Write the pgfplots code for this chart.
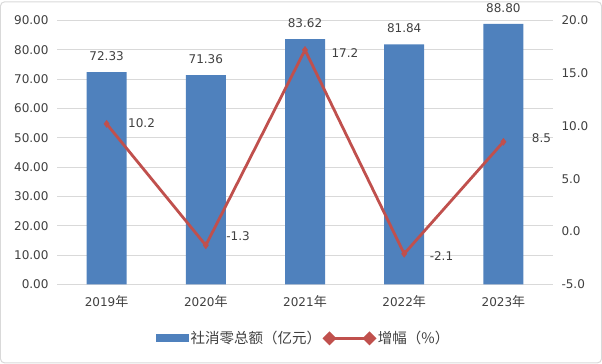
\documentclass[border=0pt]{standalone}
\usepackage{pgfplots}
\pgfplotsset{compat=1.18}
\usepackage{fontspec}
\setmainfont{DejaVu Sans}
\newfontfamily\cjk{Noto Sans CJK SC}
\definecolor{barblue}{HTML}{4F81BD}
\definecolor{linered}{HTML}{C0504D}
\definecolor{txt}{HTML}{404040}
\definecolor{gridc}{HTML}{D9D9D9}
\newcommand{\nian}{{\cjk\fontsize{13bp}{15bp}\selectfont 年}}
\pgfplotstableread{
x y dx dy
0 10.2 18 1
1 -1.3 17 9
2 17.2 23 -3
3 -2.1 22 -2
4 8.5 25 4
}\growth
\begin{document}
\begin{tikzpicture}
\draw[rounded corners=4bp, gridc, line width=1bp] (0.5bp,0.5bp) rectangle (601.5bp,361.5bp);
\begin{axis}[at={(57bp,79bp)}, anchor=south west, scale only axis,
  width=496bp, height=264bp,
  xmin=-0.5, xmax=4.5, ymin=0, ymax=90, ytick={0,10,...,90},
  xtick={0,1,2,3,4},
  xticklabels={2019\nian,2020\nian,2021\nian,2022\nian,2023\nian},
  /pgf/number format/assume math mode=true,
  yticklabel={\pgfmathprintnumber[fixed,fixed zerofill,precision=2]{\tick}},
  ticklabel style={font=\fontsize{12bp}{14bp}\selectfont, text=txt},
  yticklabel style={xshift=-5bp},
  xticklabel style={yshift=-3bp},
  ymajorgrids, grid style={gridc, line width=1bp},
  axis x line*=bottom, axis y line*=left,
  y axis line style={draw=none}, x axis line style={draw=gridc, line width=1bp, -},
  tick style={draw=none},
  ybar, bar width=40bp,
  nodes near coords,
  nodes near coords style={font=\fontsize{12bp}{14bp}\selectfont, text=txt, yshift=8bp,
    /pgf/number format/.cd, fixed, fixed zerofill, precision=2},
  clip=false,
]
\addplot[fill=barblue, draw=none] coordinates {(0,72.33) (1,71.36) (2,83.62) (3,81.84) (4,88.80)};
\end{axis}
\begin{axis}[at={(57bp,79bp)}, anchor=south west, scale only axis,
  width=496bp, height=264bp,
  xmin=-0.5, xmax=4.5, ymin=-5, ymax=20, ytick={-5,0,...,20},
  /pgf/number format/assume math mode=true,
  yticklabel={\pgfmathprintnumber[fixed,fixed zerofill,precision=1]{\tick}},
  ticklabel style={font=\fontsize{12bp}{14bp}\selectfont, text=txt},
  yticklabel style={xshift=5bp},
  axis y line*=right, hide x axis,
  y axis line style={draw=none},
  tick style={draw=none},
  clip=false,
  legend style={at={(0.497,-0.2045)}, anchor=center, draw=none, fill=none,
    legend columns=2, font={\cjk\fontsize{14.5bp}{16bp}\selectfont}, text=txt,
    /tikz/every even column/.append style={column sep=0bp}},
]
\addlegendimage{area legend, fill=barblue, draw=none,
  legend image code/.code={\fill[barblue] (0bp,-4bp) rectangle (33bp,4bp);}}
\addlegendentry{社消零总额（亿元）}
\addplot[linered, line width=2.8bp, mark=diamond*, mark size=3.5bp,
  mark options={fill=linered, draw=linered, line width=0.5bp},
  visualization depends on={\thisrow{dx}\as\dxv},
  visualization depends on={\thisrow{dy}\as\dyv},
  nodes near coords,
  nodes near coords style={anchor=west, xshift=\dxv bp, yshift=\dyv bp, font=\fontsize{12bp}{14bp}\selectfont, text=txt,
    /pgf/number format/.cd, fixed, fixed zerofill, precision=1},
  legend image code/.code={
    \draw[linered, line width=2.8bp] (0bp,0bp) -- (40bp,0bp);
    \fill[linered] (0bp,-5bp) -- (5bp,0bp) -- (0bp,5bp) -- (-5bp,0bp) -- cycle;
    \fill[linered] (40bp,-5bp) -- (45bp,0bp) -- (40bp,5bp) -- (35bp,0bp) -- cycle;}
] table[x=x, y=y] {\growth};
\addlegendentry{增幅（\%）}
\end{axis}
\end{tikzpicture}
\end{document}
